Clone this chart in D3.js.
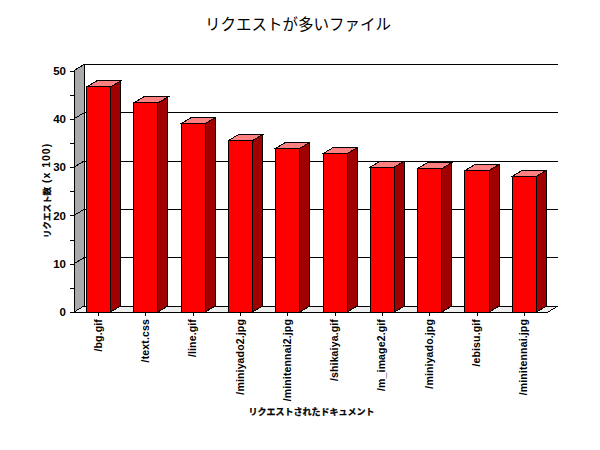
<!DOCTYPE html>
<html><head><meta charset="utf-8">
<script src="https://cdn.jsdelivr.net/npm/d3@7"></script>
<style>html,body{margin:0;background:#fff}svg{display:block}</style></head>
<body><svg id="c" width="600" height="450" shape-rendering="crispEdges"></svg>
<script>
const files = ["/bg.gif","/text.css","/line.gif","/miniyado2.jpg","/minitennai2.jpg","/shikaiya.gif","/m_image2.gif","/miniyado.jpg","/ebisu.gif","/minitennai.jpg"];
const requests = [46.6,43.3,39,35.5,33.9,32.8,30,29.7,29.3,28.1];
const majorTicks = [0,10,20,30,40,50];
const minorTicks = [5,15,25,35,45];
const titleText = "リクエストが多いファイル";
const xTitle = "リクエストされたドキュメント";
const yTitleKana = "リクエスト数";
const yTitleUnit = " (x 100)";

const svg = d3.select("#c");
const dx = 10, dy = -6;
const x = d3.scaleBand().domain(files).range([74,548]).paddingInner(0.49).paddingOuter(0.255).align(0.52);
const y = d3.scaleLinear().domain([0,50]).range([312,70.5]);
const x0 = x.range()[0], x1 = x.range()[1], y0 = y(0), yT = y(50);
const line = d3.line();
const font = "'Liberation Sans',Arial,sans-serif";
const cjk = "'Noto Sans CJK JP',sans-serif";

// wall and floor
svg.append("path").attr("d",line([[x0,y0],[x0,yT],[x0+dx,yT+dy],[x0+dx,y0+dy]])+"Z").attr("fill","#aaa").attr("stroke","#000");
svg.append("path").attr("d",line([[x0,y0],[x0+dx,y0+dy],[x1+dx,y0+dy],[x1,y0]])+"Z").attr("fill","#eee").attr("stroke","#000");

// gridlines with slanted wall ticks
majorTicks.forEach(t=>{
  const Y=y(t);
  svg.append("path").attr("d",line([[x0,Y],[x0+dx,Y+dy],[x1+dx,Y+dy]])).attr("fill","none").attr("stroke","#000");
});

// bars
const g = svg.append("g").selectAll("g").data(files.map((f,i)=>({f,v:requests[i]}))).join("g");
g.each(function(d){
  const s=d3.select(this), l=x(d.f), r=l+x.bandwidth(), t=y(d.v);
  s.append("path").attr("d",line([[r,y0],[r,t],[r+dx,t+dy],[r+dx,y0+dy]])+"Z").attr("fill","#a00000").attr("stroke","#000");
  s.append("path").attr("d",line([[l,t],[l+dx,t+dy],[r+dx,t+dy],[r,t]])+"Z").attr("fill","#ff8080").attr("stroke","#000");
  s.append("rect").attr("x",l).attr("y",t).attr("width",x.bandwidth()).attr("height",y0-t).attr("fill","#f00").attr("stroke","#000");
});

// left axis
const ya = svg.append("g").attr("transform",`translate(${x0},0)`)
  .call(d3.axisLeft(y).tickValues(majorTicks).tickSize(4).tickPadding(4).tickFormat(d3.format("d")));
ya.select(".domain").remove();
ya.selectAll("text").attr("font-family",font).attr("font-weight","bold").attr("font-size",11.5).attr("fill","#000");
const ym = svg.append("g").attr("transform",`translate(${x0},0)`)
  .call(d3.axisLeft(y).tickValues(minorTicks).tickSize(4).tickFormat(""));
ym.select(".domain").remove();

// bottom axis
const xa = svg.append("g").attr("transform",`translate(0,${y0})`)
  .call(d3.axisBottom(x).tickSize(4).tickPadding(0));
xa.select(".domain").remove();
xa.selectAll("text").attr("font-family",font).attr("font-weight","bold").attr("font-size",10.5).attr("letter-spacing",0.15).attr("fill","#000")
  .attr("text-anchor","end").attr("dy",null)
  .attr("transform","translate(3,7) rotate(-90)").attr("x",0).attr("y",0);

svg.append("text").attr("x",298).attr("y",30).attr("text-anchor","middle").attr("font-family",cjk).attr("font-size",15.5).attr("font-weight",400).attr("fill","#000").text(titleText);
svg.append("text").attr("x",311.5).attr("y",415).attr("text-anchor","middle").attr("font-family",cjk).attr("font-weight","bold").attr("font-size",9).attr("fill","#000").attr("stroke","#000").attr("stroke-width",0.25).text(xTitle);
const yt = svg.append("text").attr("transform","translate(50,238) rotate(-90)").attr("text-anchor","start").attr("font-weight","bold").attr("fill","#000");
yt.append("tspan").attr("font-family",cjk).attr("font-size",8.5).attr("stroke","#000").attr("stroke-width",0.25).text(yTitleKana);
yt.append("tspan").attr("font-family",font).attr("font-size",10.5).attr("letter-spacing",1).attr("xml:space","preserve").text(yTitleUnit);
</script></body></html>
